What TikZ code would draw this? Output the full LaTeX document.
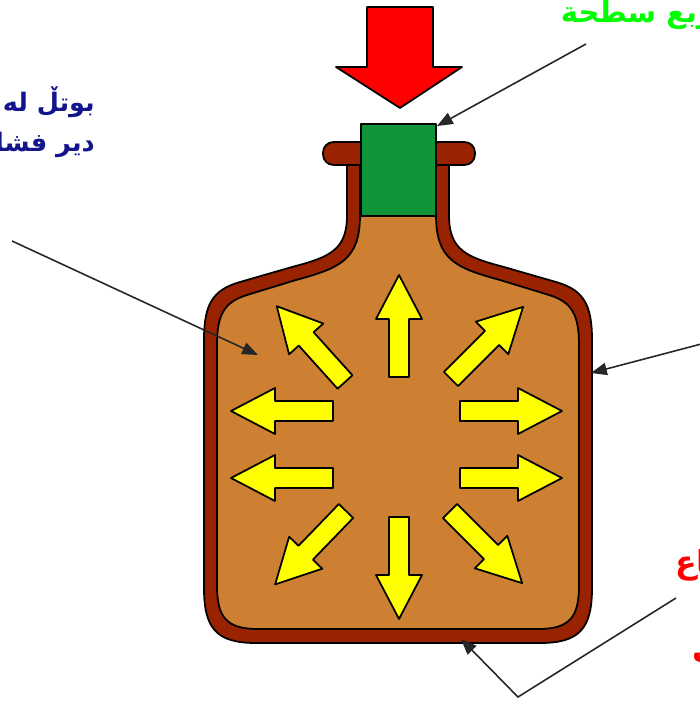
\documentclass[tikz,border=0pt]{standalone}
\usepackage{fontspec}
\usepackage{tikz}
\usepackage{xcolor}
\usetikzlibrary{arrows.meta}
\newfontfamily\arabicfont[Script=Arabic]{DejaVu Sans}
\TeXXeTstate=1
\definecolor{background}{RGB}{255, 255, 255}
\definecolor{bottlewall}{RGB}{153, 34, 0}
\definecolor{contents}{RGB}{205, 127, 50}
\definecolor{cork}{RGB}{16, 150, 56}
\definecolor{pushforce}{RGB}{255, 0, 0}
\definecolor{pressure}{RGB}{255, 255, 0}
\definecolor{surfacefont}{RGB}{0, 255, 0}
\definecolor{bottlefont}{RGB}{20, 20, 140}
\definecolor{basefont}{RGB}{255, 0, 0}
\tikzset{
	outline/.style={draw=black, line width=1pt, line join=round},
	pointer/.style={draw=black!85, line width=0.9pt, -{Triangle[length=9pt,width=7pt]}},
	notetext/.style={inner sep=0pt, font=\arabicfont\bfseries\fontsize{16}{24}\selectfont}
}

\begin{document}
\begin{tikzpicture}[x=0.02cm, y=-0.02cm]
				% Boundary box
				\fill[background] (0,0) rectangle (699,702);
				\useasboundingbox (0,0) rectangle (699,702);

				% Bottle
				% Outer wall
				\draw[outline, fill=bottlewall] (347,160) -- (347,215) .. controls (347,250) and (330,257) .. (292,267) -- (240,282) .. controls (212,290) and (204,305) .. (204,340) -- (204,588) .. controls (204,628) and (216,643) .. (256,643) -- (540,643) .. controls (580,643) and (592,628) .. (592,588) -- (592,340) .. controls (592,305) and (584,290) .. (556,282) -- (504,267) .. controls (466,257) and (449,250) .. (449,215) -- (449,160) -- cycle;

				% Contents
				\draw[outline, fill=contents] (360,160) -- (360,215) .. controls (360,260) and (340,268) .. (296,280) -- (247,295) .. controls (224,302) and (217,315) .. (217,345) -- (217,585) .. controls (217,617) and (226,629) .. (258,629) -- (538,629) .. controls (570,629) and (579,617) .. (579,585) -- (579,345) .. controls (579,315) and (572,302) .. (549,295) -- (500,280) .. controls (456,268) and (436,260) .. (436,215) -- (436,160) -- cycle;

				% Rim and cork
				\draw[outline, fill=bottlewall, rounded corners=6] (323,142) rectangle (475,165);
				\draw[outline, fill=cork] (361,124) rectangle (436,216);

				% Force pushing on the cork
				\draw[outline, fill=pushforce] (367,7) -- (433,7) -- (433,67) -- (462,67) -- (400,108) -- (336,67) -- (367,67) -- cycle;

				% Pressure arrows inside
				\foreach \tx/\ty/\dir in {399/377/90, 399/517/270, 333/411/180, 333/478/180, 460/411/0, 460/478/0, 345/382/132, 451/379/45, 346/511/226, 450/511/315}
					\draw[outline, fill=pressure, shift={(\tx,\ty)}, rotate=\dir] (0,-10) -- (58,-10) -- (58,-23) -- (102,0) -- (58,23) -- (58,10) -- (0,10) -- cycle;

				% Points the notes refer to
				\coordinate (corkcorner) at (437,126);
				\coordinate (insidepoint) at (258,355);
				\coordinate (sidepoint) at (591,373);
				\coordinate (basepoint) at (461,639);
				\coordinate (basebend) at (518,697);

				% Text
				\node[notetext, text=surfacefont, anchor=base east, font=\arabicfont\bfseries\fontsize{16.5}{24}\selectfont] (surfacetext) at (714,23) {\beginR ربع سطحة\endR};
				\node[notetext, text=bottlefont, anchor=north east, align=right, font=\arabicfont\bfseries\fontsize{14.5}{23}\selectfont] (bottletext) at (95,86) {\beginR بوتڵ له\endR\\\beginR دير فشار\endR};
				\node[notetext, text=basefont, anchor=north west, align=left, font=\arabicfont\bfseries\fontsize{18}{24}\selectfont] (basetext) at (675,549) {\beginR قاع\endR\\[26pt]\hspace*{10pt}\beginR ک\endR};

				% Connector ends beside the text
				\coordinate (surfacestart) at (586,44);
				\coordinate (bottlestart) at (12,241);
				\coordinate (sidestart) at (705,343);
				\coordinate (basestart) at (676,598);

				% Connectors
				\draw[pointer] (surfacestart) -- (corkcorner);
				\draw[pointer] (bottlestart) -- (insidepoint);
				\draw[pointer] (sidestart) -- (sidepoint);
				\draw[pointer] (basestart) -- (basebend) -- (basepoint);
			\end{tikzpicture}
\end{document}
